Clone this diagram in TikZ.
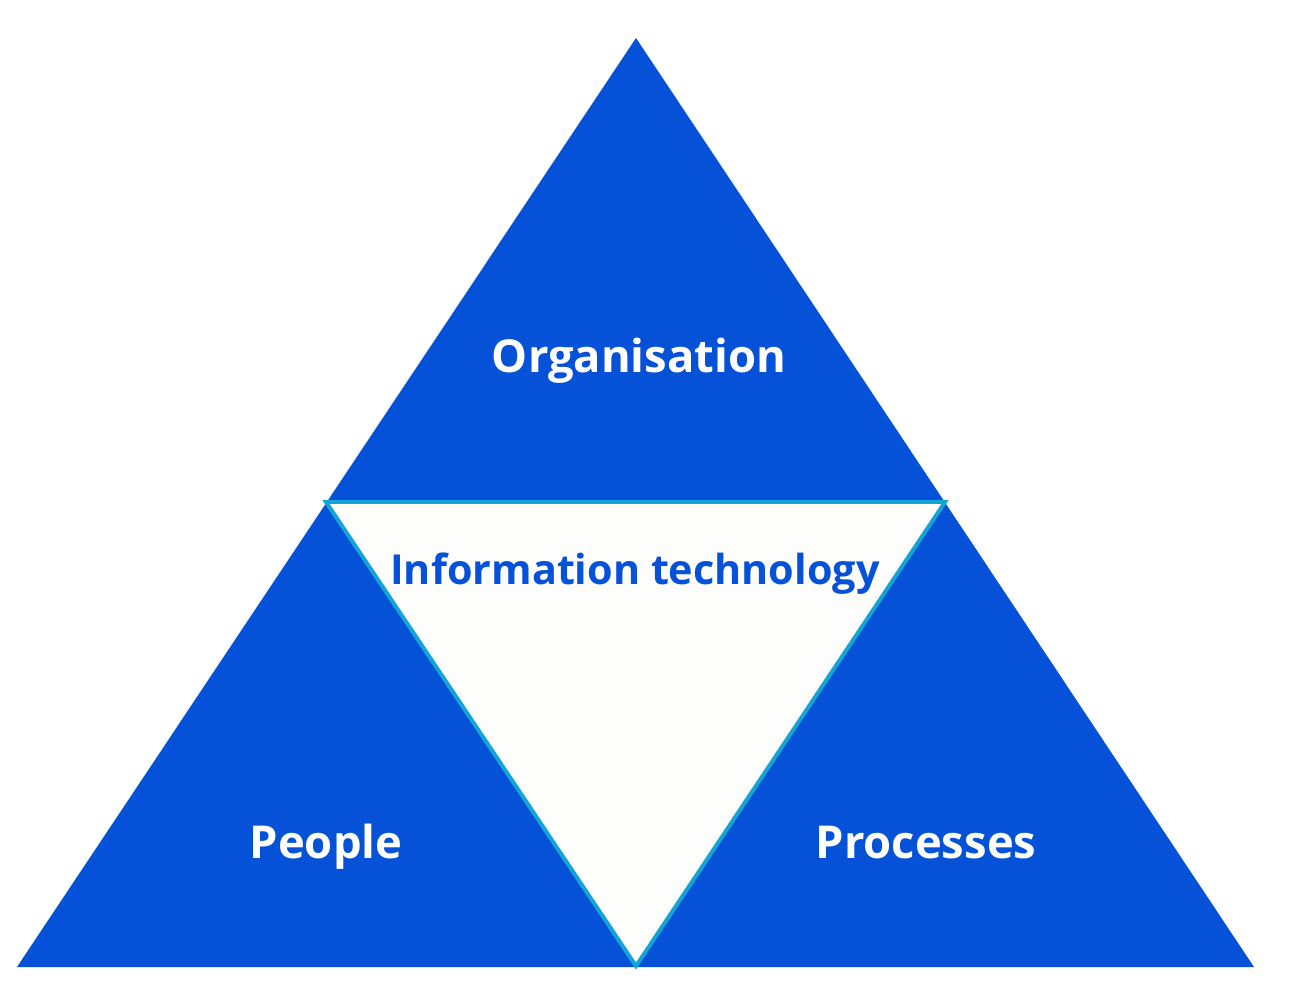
\documentclass[tikz,border=0pt]{standalone}
\usepackage{fontspec}
\setmainfont{Open Sans}
\definecolor{triblue}{RGB}{5,82,217}
\definecolor{edgecyan}{RGB}{20,165,215}
\definecolor{innerfill}{RGB}{253,253,251}
\begin{document}
\begin{tikzpicture}[x=0.75pt,y=-0.75pt,
  outer/.style={fill=triblue},
  inner/.style={fill=innerfill,draw=edgecyan,line width=3pt,line join=miter},
  biglabel/.style={anchor=base,text=white,font=\bfseries\fontsize{34}{40}\selectfont,inner sep=0pt},
  itlabel/.style={anchor=base,text=triblue,font=\bfseries\fontsize{31}{37}\selectfont,inner sep=0pt}]
\useasboundingbox (0,0) rectangle (1293,1005);
\coordinate (apex) at (636,38);
\coordinate (bl) at (17,967);
\coordinate (br) at (1254,967);
\coordinate (ml) at (326,502);
\coordinate (mr) at (945,502);
\coordinate (mb) at (636,966);
\fill[outer] (apex) -- (br) -- (bl) -- cycle;
\filldraw[inner] (ml) -- (mr) -- (mb) -- cycle;
\node[biglabel] (org) at (639,373) {Organisation};
\node[biglabel] (ppl) at (326,858) {People};
\node[biglabel] (proc) at (926,858) {Processes};
\node[itlabel] (it) at (635,585) {Information technology};
\end{tikzpicture}
\end{document}
